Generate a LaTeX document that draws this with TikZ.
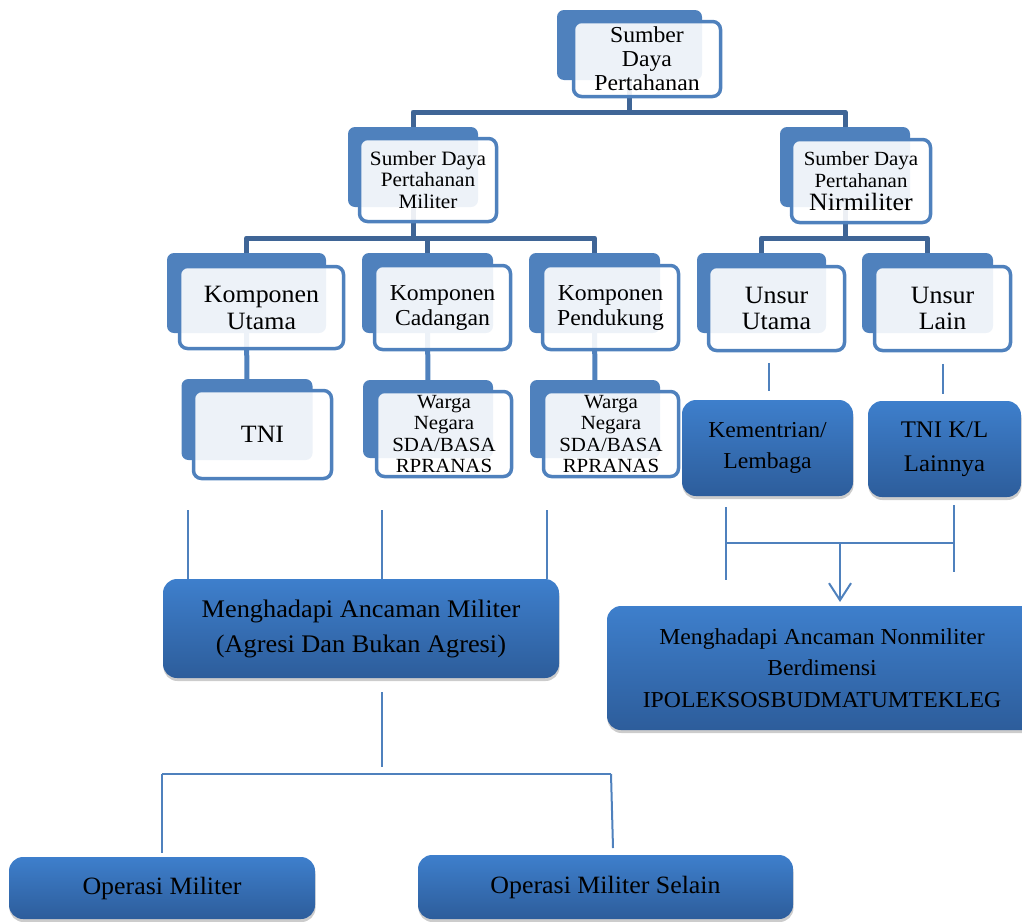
\documentclass[tikz,border=0pt]{standalone}
\usepackage{fontspec}
\setmainfont[FakeStretch=1.04]{Liberation Serif}
\usetikzlibrary{arrows.meta, positioning, calc, shadows, backgrounds}
\definecolor{smartblue}{RGB}{79,129,189}
\definecolor{trunkblue}{RGB}{63,101,150}
\definecolor{gradtop}{RGB}{62,127,204}
\definecolor{gradbot}{RGB}{45,93,155}

\tikzset{
  backbox/.style={fill=smartblue, rounded corners=7pt, inner sep=0pt},
  frontbox/.style={draw=smartblue, line width=3.5pt, fill=white, fill opacity=0.9, text opacity=1, rounded corners=8pt, inner sep=0pt, align=center},
  gradbox/.style={top color=gradtop, bottom color=gradbot, rounded corners=14pt, inner sep=0pt, align=center, drop shadow={shadow xshift=0.5pt, shadow yshift=-3pt, fill=black!40}},
  trunk/.style={draw=trunkblue, line width=5pt},
  branch/.style={draw=smartblue, line width=5pt},
  thinline/.style={draw=smartblue, line width=2pt},
}

\begin{document}
\begin{tikzpicture}[x=1pt, y=-1pt]
  \useasboundingbox (0,0) rectangle (1022,921);
  \clip (0,0) rectangle (1022,921);

  % stacked boxes (back plate + front label)
  \node[backbox, minimum width=145pt, minimum height=70pt] (sdpbk) at (629.5,45) {};
  \node[frontbox, minimum width=147pt, minimum height=75pt, font=\fontsize{22.8}{24}\selectfont] (sdp) at (647,59) {Sumber\\Daya\\Pertahanan};

  \node[backbox, minimum width=130pt, minimum height=80pt] (sdpmbk) at (413,167) {};
  \node[frontbox, minimum width=137pt, minimum height=83pt, font=\fontsize{20.4}{21.5}\selectfont] (sdpm) at (428,180) {Sumber Daya\\Pertahanan\\Militer};

  \node[backbox, minimum width=130pt, minimum height=80pt] (sdpnbk) at (845,167) {};
  \node[frontbox, minimum width=139pt, minimum height=83pt, font=\fontsize{20.1}{21.5}\selectfont] (sdpn) at (861,181) {Sumber Daya\\Pertahanan\\[1.5pt]{\fontsize{24.9}{24}\selectfont Nirmiliter}};

  \node[backbox, minimum width=159pt, minimum height=80pt] (kubk) at (246.5,293) {};
  \node[frontbox, minimum width=164pt, minimum height=82pt, font=\fontsize{24.9}{27}\selectfont] (ku) at (261.5,307.5) {Komponen\\Utama};

  \node[backbox, minimum width=131pt, minimum height=80pt] (kcbk) at (427.5,293) {};
  \node[frontbox, minimum width=136pt, minimum height=84pt, font=\fontsize{22.8}{25}\selectfont] (kc) at (442.5,307.5) {Komponen\\Cadangan};

  \node[backbox, minimum width=131pt, minimum height=80pt] (kpbk) at (594.5,293) {};
  \node[frontbox, minimum width=136pt, minimum height=84pt, font=\fontsize{22.8}{25}\selectfont] (kp) at (610.5,307.5) {Komponen\\Pendukung};

  \node[backbox, minimum width=129pt, minimum height=80pt] (uubk) at (761.5,293) {};
  \node[frontbox, minimum width=136pt, minimum height=84pt, font=\fontsize{24.9}{26}\selectfont] (uu) at (776.5,308.5) {Unsur\\Utama};

  \node[backbox, minimum width=131pt, minimum height=80pt] (ulbk) at (927.5,293) {};
  \node[frontbox, minimum width=136pt, minimum height=84pt, font=\fontsize{24.9}{26}\selectfont] (ul) at (942.5,308.5) {Unsur\\Lain};

  \node[backbox, minimum width=131pt, minimum height=81pt] (tnibk) at (247,419.5) {};
  \node[frontbox, minimum width=138pt, minimum height=88pt, font=\fontsize{24.9}{26}\selectfont] (tni) at (262.5,434.5) {TNI};

  \node[backbox, minimum width=130pt, minimum height=78pt] (wnabk) at (428,419) {};
  \node[frontbox, minimum width=135pt, minimum height=85pt, font=\fontsize{20.1}{21.5}\selectfont] (wna) at (444,434) {Warga\\Negara\\SDA/BASA\\RPRANAS};

  \node[backbox, minimum width=130pt, minimum height=78pt] (wnbbk) at (595,419) {};
  \node[frontbox, minimum width=135pt, minimum height=85pt, font=\fontsize{20.1}{21.5}\selectfont] (wnb) at (611,434) {Warga\\Negara\\SDA/BASA\\RPRANAS};

  % gradient boxes
  \node[gradbox, minimum width=171pt, minimum height=96pt, font=\fontsize{22.8}{31}\selectfont] (kem) at (767.5,448) {Kementrian/\\Lembaga};
  \node[gradbox, minimum width=153pt, minimum height=96pt, font=\fontsize{23.8}{34}\selectfont] (tkl) at (944.5,449) {TNI K/L\\Lainnya};
  \node[gradbox, minimum width=396pt, minimum height=99pt, font=\fontsize{25.3}{35}\selectfont] (mil) at (361,628.5) {Menghadapi Ancaman Militer\\(Agresi Dan Bukan Agresi)};
  \node[gradbox, minimum width=430pt, minimum height=124pt, font=\fontsize{22.8}{31.5}\selectfont] (nonmil) at (822,668) {Menghadapi Ancaman Nonmiliter\\Berdimensi\\IPOLEKSOSBUDMATUMTEKLEG};
  \node[gradbox, minimum width=306pt, minimum height=62pt, font=\fontsize{24.9}{26}\selectfont] (om) at (162,888) {Operasi Militer};
  \node[gradbox, minimum width=375pt, minimum height=64pt, font=\fontsize{24.9}{26}\selectfont] (oms) at (605.5,887) {Operasi Militer Selain};

  % hierarchy lines
  \begin{scope}[on background layer]
    \draw[trunk] (sdpbk) -- (sdpbk |- 0,112);
    \draw[trunk, line join=round] (sdpmbk) -- (sdpmbk |- 0,112) -- (sdpnbk |- 0,112) -- (sdpnbk);
    \draw[trunk] (sdpmbk) -- (sdpmbk |- 0,238);
    \draw[trunk, line join=round] (kubk) -- (kubk |- 0,238) -- (kpbk |- 0,238) -- (kpbk);
    \draw[trunk] (kcbk) -- (kcbk |- 0,238);
    \draw[trunk] (sdpnbk) -- (sdpnbk |- 0,238);
    \draw[trunk, line join=round] (uubk) -- (uubk |- 0,238) -- (ulbk |- 0,238) -- (ulbk);
    \draw[branch] (kubk) -- (tnibk);
    \draw[branch] (kcbk) -- (wnabk);
    \draw[branch] (kpbk) -- (wnbbk);
  \end{scope}

  % thin lines
  \draw[thinline] (kem.north) ++(1.5,-37) -- ++(0,28);
  \draw[thinline] (tkl.north) ++(-1.5,-37) -- ++(0,30);

  \coordinate (jl) at (726,543);
  \coordinate (jr) at (954,543);
  \coordinate (jm) at ($(jl)!.5!(jr)$);
  \draw[thinline] (jl) ++(0,-36) -- ++(0,73);
  \draw[thinline] (jr) ++(0,-38) -- ++(0,67);
  \draw[thinline] (jl) -- (jr);
  \draw[thinline, -{Straight Barb[length=17pt, width=22pt, line width=2pt]}] (jm) -- ++(0,59);

  \coordinate (ma) at (188,510);
  \coordinate (mb) at (382,510);
  \coordinate (mc) at (547,510);
  \draw[thinline] (ma) -- (ma |- mil.north);
  \draw[thinline] (mb) -- (mb |- mil.north);
  \draw[thinline] (mc) -- (mc |- mil.north);

  \coordinate (oa) at (162,774);
  \coordinate (ob) at (611,774);
  \draw[thinline] (mil.south -| mb) ++(0,14) -- ++(0,75);
  \draw[thinline] (oa) -- (ob);
  \draw[thinline] (oa) -- ++(0,79);
  \draw[thinline] (ob) -- ++(2,74);
\end{tikzpicture}
\end{document}
